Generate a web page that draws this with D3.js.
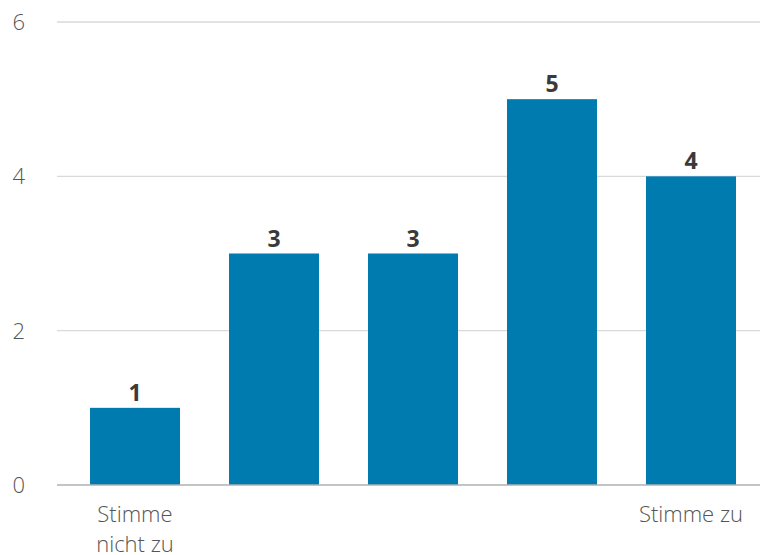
<!DOCTYPE html>
<html><head><meta charset="utf-8">
<script src="https://cdn.jsdelivr.net/npm/d3@7"></script>
<style>body{margin:0;background:#fff}svg{display:block}</style>
</head><body>
<svg id="chart" width="760" height="555"></svg>
<script>
const categories = ["1", "2", "3", "4", "5"];
const categoryLabels = [["Stimme", "nicht zu"], [], [], [], ["Stimme zu"]];
const values = [1, 3, 3, 5, 4];
const yTicks = [0, 2, 4, 6];

const svg = d3.select("#chart");
const x = d3.scaleBand().domain(categories).range([57, 769]).paddingInner(0.3525).paddingOuter(0.2375);
const y = d3.scaleLinear().domain([0, 6]).range([485, 22]);
const font = "'Open Sans', sans-serif";

// gridlines
svg.append("g").selectAll("line").data(yTicks.filter(d => d !== 0)).join("line")
  .attr("x1", 57).attr("x2", 760)
  .attr("y1", d => y(d)).attr("y2", d => y(d))
  .attr("stroke", "#d9d9d9").attr("stroke-width", 1.3);

// y labels
svg.append("g").selectAll("text").data(yTicks).join("text")
  .attr("x", 25).attr("y", d => y(d)).attr("dy", "0.36em")
  .attr("text-anchor", "end")
  .attr("font-family", font).attr("font-weight", 300).attr("font-size", 22)
  .attr("fill", "#555").text(d => d);

// bars
svg.append("g").selectAll("rect").data(values).join("rect")
  .attr("x", (d, i) => x(categories[i]))
  .attr("width", x.bandwidth())
  .attr("y", d => y(d))
  .attr("height", d => y(0) - y(d))
  .attr("fill", "#007bb0");

// baseline
svg.append("line").attr("x1", 57).attr("x2", 760).attr("y1", y(0)).attr("y2", y(0))
  .attr("stroke", "#b0b0b0").attr("stroke-width", 1.3);

// value labels
svg.append("g").selectAll("text").data(values).join("text")
  .attr("x", (d, i) => x(categories[i]) + x.bandwidth() / 2)
  .attr("y", d => y(d) - 7)
  .attr("text-anchor", "middle")
  .attr("font-family", font).attr("font-weight", 700).attr("font-size", 23)
  .attr("fill", "#3a3a3a").text(d => d);

// category labels
const cl = svg.append("g");
categories.forEach((c, i) => {
  categoryLabels[i].forEach((line, j) => {
    cl.append("text")
      .attr("x", x(c) + x.bandwidth() / 2)
      .attr("y", 522 + j * 30)
      .attr("text-anchor", "middle")
      .attr("font-family", font).attr("font-weight", 300).attr("font-size", 22)
      .attr("fill", "#555").text(line);
  });
});
</script>
</body></html>
